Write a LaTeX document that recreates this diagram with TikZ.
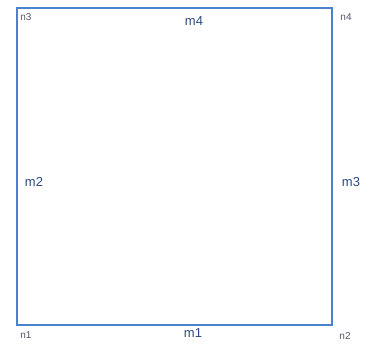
\documentclass[tikz,border=0pt]{standalone}
\usepackage{fontspec}
\setmainfont{Liberation Sans}
\usetikzlibrary{positioning}
\definecolor{edgeblue}{HTML}{4A82D0}
\definecolor{labnavy}{HTML}{2B4A82}
\definecolor{cornergray}{HTML}{505868}

\begin{document}
\begin{tikzpicture}[
  x=1pt, y=-1pt,
  edge/.style={draw=edgeblue, line width=1.3pt},
  memb/.style={text=labnavy, font=\fontsize{13}{13}\selectfont, inner sep=0pt},
  corner/.style={text=cornergray, font=\fontsize{10}{10}\selectfont, inner sep=0pt}
]
\useasboundingbox (0,0) rectangle (369,351);

% corner points
\coordinate (p1) at (17,325);
\coordinate (p2) at (332,325);
\coordinate (p3) at (17,8);
\coordinate (p4) at (332,8);

% members
\draw[edge] (p1) -- (p2) -- (p4) -- (p3) -- cycle;

% node labels
\node[corner] (n1) at (26,335) {n1};
\node[corner] (n2) at (345,336) {n2};
\node[corner] (n3) at (26,17) {n3};
\node[corner] (n4) at (346,17) {n4};

% member labels
\node[memb] (m1) at (193,333) {m1};
\node[memb] (m2) at (34,182) {m2};
\node[memb] (m3) at (351,182) {m3};
\node[memb] (m4) at (194,21) {m4};

\end{tikzpicture}
\end{document}
